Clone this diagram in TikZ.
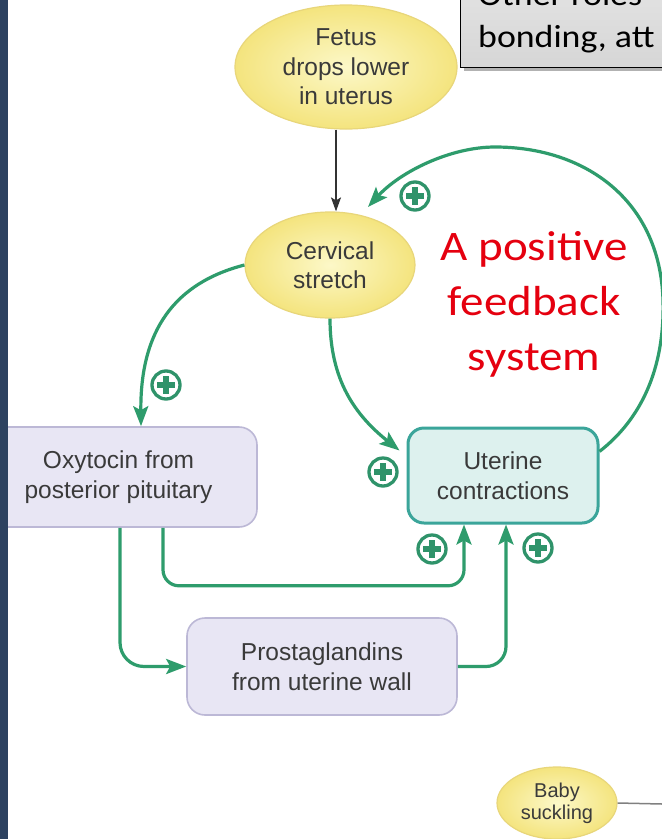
\documentclass[tikz,border=0pt]{standalone}
\usepackage{fontspec}
\setmainfont{Liberation Sans}
\newfontfamily\calib[FakeStretch=1.12]{Carlito}
\usetikzlibrary{arrows.meta,shapes.geometric}
\definecolor{gline}{HTML}{2E9C6C}
\definecolor{gplus}{HTML}{2F936A}
\definecolor{ytext}{HTML}{3A3A3A}
\definecolor{yin}{HTML}{FCF8C8}
\definecolor{yout}{HTML}{F4E47E}
\definecolor{yedge}{HTML}{E8D67A}
\definecolor{lavfill}{HTML}{E8E6F4}
\definecolor{lavedge}{HTML}{BCB8D6}
\definecolor{tealfill}{HTML}{DDF1EE}
\definecolor{tealedge}{HTML}{3BA59A}
\definecolor{navy}{HTML}{2D4260}
\definecolor{redtxt}{HTML}{E5000F}
\definecolor{boxgray}{HTML}{D6D6D6}
\begin{document}
\begin{tikzpicture}[x=1pt,y=-1pt,
  every node/.style={text=ytext, align=center, inner sep=0pt},
  lbl/.style={font=\fontsize{24.5}{29.5}\selectfont},
  yell/.style={ellipse, draw=yedge, line width=1.2pt, inner color=yin, outer color=yout, lbl},
  lav/.style={rectangle, rounded corners=18pt, draw=lavedge, line width=1.6pt, fill=lavfill, lbl},
  tealbox/.style={rectangle, rounded corners=16pt, draw=tealedge, line width=3pt, fill=tealfill, lbl},
  garr/.style={draw=gline, line width=3.2pt, -{Stealth[length=20pt,width=15pt,inset=4pt]}},
  barr/.style={draw=black!80, line width=1.6pt, -{Stealth[length=14pt,width=10pt,inset=3pt]}},
  plussign/.style={circle, draw=gplus, line width=3.3pt, fill=white, minimum size=28pt,
    path picture={
      \fill[gplus] ([xshift=-9pt,yshift=-3pt]path picture bounding box.center) rectangle ([xshift=9pt,yshift=3pt]path picture bounding box.center);
      \fill[gplus] ([xshift=-3pt,yshift=-9pt]path picture bounding box.center) rectangle ([xshift=3pt,yshift=9pt]path picture bounding box.center);
    }},
]
\useasboundingbox (0,0) rectangle (662,839);
\clip (0,0) rectangle (662,839);
\fill[white] (0,0) rectangle (662,839);

% nodes
\node[yell, minimum width=222pt, minimum height=124pt] (fetus) at (346,67) {Fetus\\drops lower\\in uterus};
\node[yell, minimum width=170pt, minimum height=106pt] (cervical) at (330,265) {Cervical\\stretch};
\node[lav, minimum width=277pt, minimum height=100pt] (oxy) at (118.5,477) {Oxytocin from\\posterior pituitary};
\node[tealbox, minimum width=190pt, minimum height=95pt] (uterine) at (503,475.5) {Uterine\\contractions};
\node[lav, minimum width=270pt, minimum height=97pt] (prost) at (322,666.5) {Prostaglandins\\from uterine wall};
\node[yell, minimum width=120pt, minimum height=72pt, font=\fontsize{20}{22}\selectfont] (baby) at (557,803) {Baby\\suckling};

% top-right box
\fill[black!30] (464,-30) rectangle (700,71);
\node[rectangle, draw=black, line width=1.3pt, top color=black!10, bottom color=boxgray, minimum width=260pt, minimum height=100pt, anchor=north west] (roles) at (460,-33) {};
\node[anchor=base west, text=black, font=\calib\fontsize{32}{42}\selectfont] (roles1) at (478,5) {Other roles –};
\node[anchor=base west, text=black, font=\calib\fontsize{32}{42}\selectfont] (roles2) at (478,47) {bonding, att};

% red text
\node[text=redtxt, font=\calib\fontsize{42}{55}\selectfont] (pfs) at (534,304) {A positive\\feedback\\system};

% connectors
\coordinate (ax) at (336,0);
\draw[barr] (ax |- fetus.south) -- (ax |- cervical.north);

\coordinate (csin) at (368,207);
\draw[garr] (uterine.14) .. controls (640,420) and (665,370) .. (663,300)
  .. controls (660,200) and (585,147) .. (495,147)
  .. controls (450,147) and (400,172) .. (csin);

\draw[garr] (cervical.west) .. controls (175,283) and (140,330) .. ([xshift=22.5pt]oxy.north);
\draw[garr] (cervical.south) .. controls (330,380) and (355,415) .. ([xshift=-7pt,yshift=-24pt]uterine.north west);
\draw[garr, rounded corners=16pt] ([xshift=44.5pt]oxy.south) -- ++(0,58) -| ([xshift=-39pt]uterine.south);
\draw[garr, rounded corners=24pt] ([xshift=1.5pt]oxy.south) |- (prost.west);
\draw[garr, rounded corners=20pt] (prost.east) -| ([xshift=3pt]uterine.south);

\coordinate (redge) at (662,804);
\draw[draw=black!50, line width=1.5pt] (baby.east) -- (redge);

% plus signs
\node[plussign] (p1) at (415,196) {};
\node[plussign] (p2) at (166,385) {};
\node[plussign] (p3) at (383,472) {};
\node[plussign] (p4) at (432,549) {};
\node[plussign] (p5) at (538,548) {};

% left strip
\fill[navy] (0,0) rectangle (8,839);
\end{tikzpicture}
\end{document}
